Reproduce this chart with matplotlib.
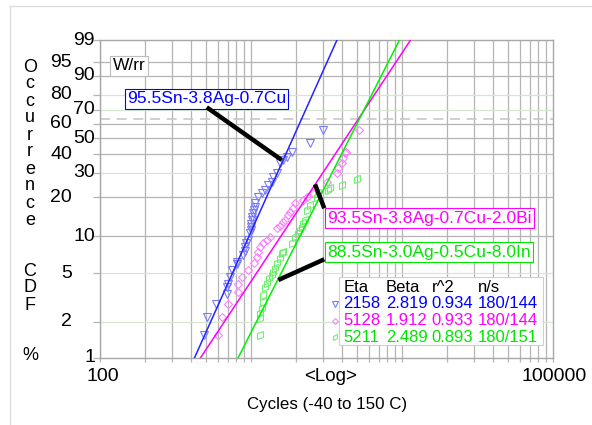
import numpy as np
import matplotlib

matplotlib.use("Agg")
import matplotlib.pyplot as plt
from matplotlib.lines import Line2D
from matplotlib.markers import MarkerStyle
from matplotlib.transforms import Affine2D, blended_transform_factory

plt.rcParams["font.family"] = ["Liberation Sans", "DejaVu Sans"]

W, H = 592, 425

# fit results (legend table)
alloys = ["95.5Sn-3.8Ag-0.7Cu", "93.5Sn-3.8Ag-0.7Cu-2.0Bi", "88.5Sn-3.0Ag-0.5Cu-8.0In"]
eta = [2158, 5128, 5211]
beta = [2.819, 1.912, 2.489]
r2 = [0.934, 0.933, 0.893]
ns = ["180/144", "180/144", "180/151"]

# failure points (cycles, CDF %)
blue_cycles = [490, 509, 584, 690, 690, 700, 726, 745, 804, 811, 889, 912, 912, 922, 959,
               985, 1000, 1000, 1005, 1010, 1016, 1030, 1045, 1062, 1062, 1115, 1177, 1239,
               1305, 1369, 1403, 1479, 1556, 1637, 1720, 1858, 2460, 3013]
blue_pct = [1.55, 2.18, 2.80, 3.39, 3.85, 4.09, 4.65, 5.33, 5.96, 6.23, 7.05, 7.63, 8.22, 8.75, 9.30,
            10.6, 11.2, 11.8, 12.4, 13.4, 14.1, 15.2, 16.0, 16.8, 18.1, 20.1, 21.3, 22.6,
            24.5, 25.9, 28.2, 29.7, 34.8, 36.6, 38.5, 41.4, 47.1, 55.6]

mag_cycles = [609, 645, 700, 815, 815, 872, 962, 1052, 1089, 1116, 1147, 1205, 1276, 1346, 1479,
              1556, 1637, 1679, 1766, 1811, 1905, 1955, 2219, 2337, 2587, 3168, 3690, 3783,
              3984, 4083, 4191, 4256, 5214]
mag_pct = [1.55, 2.18, 2.80, 3.53, 4.09, 4.65, 5.33, 6.04, 6.80, 7.45, 8.18, 8.75, 9.30, 9.88, 11.5,
           11.9, 13.0, 13.4, 14.6, 15.5, 16.5, 18.0, 19.0, 20.1, 21.3, 25.9, 29.7, 32.2,
           34.8, 37.6, 40.5, 41.4, 55.6]

grn_cycles = [1147, 1147, 1147, 1177, 1205, 1205, 1238, 1269, 1320, 1369, 1403, 1442, 1479, 1556,
              1595, 1637, 1858, 1956, 2057, 2111, 2163, 2220, 2275, 2335, 2459, 2720, 2786,
              3246, 3331, 3981, 5004]
grn_pct = [1.55, 2.15, 2.36, 2.60, 2.91, 3.33, 3.87, 4.17, 4.59, 4.85, 5.13, 5.53, 6.08, 6.67,
           7.32, 7.45, 8.81, 9.82, 10.6, 11.2, 11.8, 12.7, 13.4, 16.0, 17.4, 20.0, 21.4,
           22.6, 23.3, 24.5, 27.0]

y_ticks_a = [99, 90, 70, 50, 30, 10, 1]
y_ticks_b = [95, 80, 60, 40, 20, 5, 2]
y_grid_gray = [95, 90, 60, 50, 40, 20, 10]
y_grid_green = [80, 70, 30, 5, 2]

line_cols = ["#2424ff", "#ff00ff", "#00f000"]
pt_cols = ["#7a7aff", "#ff80ff", "#6ef06e"]
txt_cols = ["#0000ff", "#ff00ff", "#00e600"]


def fwd(p):
    p = np.clip(np.asarray(p, dtype=float), 1e-6, 99.9999)
    return np.log(-np.log(1 - p / 100.0))


def inv(w):
    return 100.0 * (1 - np.exp(-np.exp(np.asarray(w, dtype=float))))


def fx(x):
    return x / W


def fy(y):
    return 1 - y / H


fig = plt.figure(figsize=(W / 100, H / 100), dpi=100)
fig.patch.set_facecolor("white")
ax = fig.add_axes([fx(100), fy(358), 453 / W, 318 / H])
ax.set_xscale("log")
ax.set_yscale("function", functions=(fwd, inv))
ax.set_xlim(100, 100000)
ax.set_ylim(1, 99)

# grid
for dec in [100, 1000, 10000]:
    for m in range(1, 10):
        ax.axvline(dec * m, color="#b4b4b4", lw=0.9, zorder=0)
for v in y_grid_gray:
    ax.axhline(v, color="#b4b4b4", lw=0.9, zorder=0)
for v in y_grid_green:
    ax.axhline(v, color="#d4e8d0", lw=0.9, zorder=0)
ax.axhline(100 * (1 - np.exp(-1)), color="#c8c8c8", lw=1.2, dashes=(6, 4), zorder=0.5)

xt = [d * m for d in [100, 1000, 10000] for m in range(1, 10)] + [100000]
ax.set_xticks(xt)
ax.set_xticks([], minor=True)
ax.set_xticklabels([])
ax.set_yticks(y_ticks_a + y_ticks_b)
ax.set_yticks([], minor=True)
ax.set_yticklabels([])
ax.tick_params(axis="x", direction="out", length=3, color="#b4b4b4", width=0.9)
ax.tick_params(axis="y", direction="out", length=5, color="#b4b4b4", width=0.9)
for s in ax.spines.values():
    s.set_color("#a8a8a8")
    s.set_linewidth(1.0)

# fit lines and points
series = [(blue_cycles, blue_pct), (mag_cycles, mag_pct), (grn_cycles, grn_pct)]
markers = [
    MarkerStyle("v", fillstyle="none"),
    MarkerStyle("D", fillstyle="none"),
    MarkerStyle("d", fillstyle="none", transform=Affine2D().rotate_deg(-35)),
]
msizes = [5.5, 4.5, 5.5]
for i, (cx, cp) in enumerate(series):
    f_ends = np.array([1.0, 99.0])
    t_ends = eta[i] * (-np.log(1 - f_ends / 100)) ** (1 / beta[i])
    ax.plot(t_ends, f_ends, color=line_cols[i], lw=1.1, zorder=3)
    ax.plot(cx, cp, linestyle="none", marker=markers[i], ms=msizes[i],
            mec=pt_cols[i], mew=0.8, zorder=2)

# y tick labels, staggered
tr = blended_transform_factory(fig.transFigure, ax.transData)
for v in y_ticks_a:
    ax.text(fx(95), v, str(v), transform=tr, ha="right", va="center", fontsize=14)
for v in y_ticks_b:
    ax.text(fx(72), v, str(v), transform=tr, ha="right", va="center", fontsize=14)

# x labels
fig.text(fx(103), fy(368), "100", ha="center", va="top", fontsize=14)
fig.text(fx(331), fy(368), "<Log>", ha="center", va="top", fontsize=13.5)
fig.text(fx(554), fy(368), "100000", ha="center", va="top", fontsize=14)
fig.text(fx(327), fy(405), "Cycles (-40 to 150 C)", ha="center", va="center", fontsize=12.2)

# vertical y label
ylab = "Occurrence  CDF  %"
yy = 67
for ch in ylab:
    if ch != " ":
        fig.text(fx(30), fy(yy), ch, ha="center", va="center", fontsize=13)
    yy += 17

# W/rr box
fig.text(fx(113), fy(66), "W/rr", ha="left", va="center", fontsize=12.5,
         bbox=dict(boxstyle="square,pad=0.15", fc="white", ec="#bdbdbd", lw=0.8))

# series name boxes
name_pos = [(127, 99), (327, 218), (327, 252)]
for i, (x, y) in enumerate(name_pos):
    fig.text(fx(x), fy(y), alloys[i], ha="left", va="center", fontsize=12.6, color=txt_cols[i],
             bbox=dict(boxstyle="square,pad=0.12", fc="white", ec=txt_cols[i], lw=0.8))

# leader lines
leaders = [((206.7, 107.3), (281.7, 160)), ((315, 184.3), (324.3, 208.3)), ((324.3, 259.3), (278.3, 280))]
for (x1, y1), (x2, y2) in leaders:
    fig.add_artist(Line2D([fx(x1), fx(x2)], [fy(y1), fy(y2)], transform=fig.transFigure,
                          color="black", lw=3.2, solid_capstyle="butt", zorder=5))

# legend table
fig.add_artist(plt.Rectangle((fx(339.3), fy(345)), (543.3 - 339.3) / W, (345 - 277.3) / H,
                             transform=fig.transFigure, fc="white", ec="#cfcfcf", lw=0.8, zorder=4))
cols_x = [343.5, 386, 431.5, 478]
heads = ["Eta", "Beta", "r^2", "n/s"]
for cx, hd in zip(cols_x, heads):
    fig.text(fx(cx), fy(287), hd, ha="left", va="center", fontsize=12, zorder=6)
for i in range(3):
    ry = 304 + i * 16.7
    vals = [str(eta[i]), f"{beta[i]:.3f}", f"{r2[i]:.3f}", ns[i]]
    for cx, v in zip(cols_x, vals):
        fig.text(fx(cx), fy(ry), v, ha="left", va="center", fontsize=12, color=txt_cols[i], zorder=6)
    fig.add_artist(Line2D([fx(335)], [fy(ry)], transform=fig.transFigure, linestyle="none",
                          marker=markers[i], ms=msizes[i] - 1.5, mec=pt_cols[i], mew=0.8, zorder=6))

# outer frame
fig.add_artist(Line2D([fx(10), 1], [fy(6), fy(6)], transform=fig.transFigure, color="#dcdcdc", lw=1))
fig.add_artist(Line2D([fx(10), fx(10)], [fy(6), 0], transform=fig.transFigure, color="#dcdcdc", lw=1))

fig.savefig("out.png", dpi=100, facecolor="white")
